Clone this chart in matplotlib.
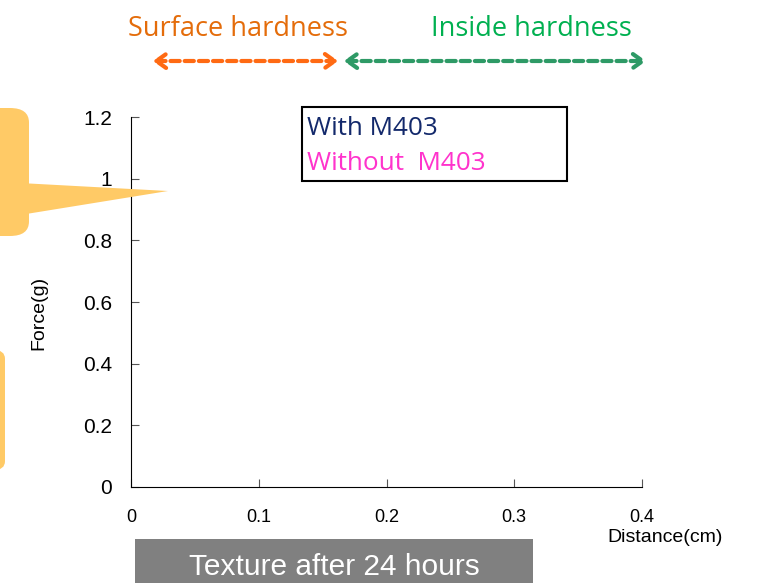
import matplotlib
matplotlib.use("Agg")
import matplotlib.pyplot as plt
from matplotlib.patches import FancyBboxPatch, Polygon, Rectangle, FancyArrowPatch

W, H = 763, 583

# axis setup
x_ticks = [0, 0.1, 0.2, 0.3, 0.4]
x_labels = ["0", "0.1", "0.2", "0.3", "0.4"]
y_ticks = [0, 0.2, 0.4, 0.6, 0.8, 1.0, 1.2]
y_labels = ["0", "0.2", "0.4", "0.6", "0.8", "1", "1.2"]

series_names = ["With M403", "Without  M403"]
series_colors = ["#13296B", "#FF33CC"]

zones = ["Surface hardness", "Inside hardness"]
zone_text_colors = ["#E46C0A", "#00B050"]
zone_arrow_colors = ["#FF6A13", "#2E9A66"]

plt.rcParams['font.family'] = ['Liberation Sans', 'DejaVu Sans']


def px(x, y):
    # pixel coords (from top-left) -> figure fraction
    return x / W, 1 - y / H


fig = plt.figure(figsize=(W / 100, H / 100), dpi=100)
ax = fig.add_axes([131 / W, 96 / H, 511 / W, 370 / H])
ax.set_xlim(0, 0.4)
ax.set_ylim(0, 1.2)
ax.set_xticks(x_ticks)
ax.set_xticklabels(x_labels)
ax.set_yticks(y_ticks)
ax.set_yticklabels(y_labels)
ax.spines['top'].set_visible(False)
ax.spines['right'].set_visible(False)
ax.tick_params(direction='in', length=6, width=0.8, color='#555555')
ax.tick_params(axis='x', pad=15.5, labelsize=13)
ax.tick_params(axis='y', pad=13.5, labelsize=15)

fig.text(*px(39, 313), "Force(g)", rotation=90, fontsize=14, ha='center', va='center')
fig.text(*px(665, 537), "Distance(cm)", fontsize=14, ha='center', va='center')

# zone labels and arrows
fig.text(*px(238, 29), zones[0], color=zone_text_colors[0], fontsize=19.5,
         ha='center', va='center', family=['Open Sans', 'DejaVu Sans'])
fig.text(*px(531, 29), zones[1], color=zone_text_colors[1], fontsize=19.5,
         ha='center', va='center', family=['Open Sans', 'DejaVu Sans'])
arrow_spans = [(150, 341), (341, 649)]
for (x0, x1), c in zip(arrow_spans, zone_arrow_colors):
    a = FancyArrowPatch(px(x0, 61), px(x1, 61), transform=fig.transFigure,
                        arrowstyle='<->,head_length=7,head_width=5', color=c,
                        lw=3, linestyle=(0, (2.2, 1.2)), mutation_scale=1)
    fig.patches.append(a)

# legend-like box
box = Rectangle(px(302, 181), 265 / W, 74 / H, transform=fig.transFigure,
                fill=False, edgecolor='black', lw=1.5)
fig.patches.append(box)
fig.text(*px(307, 128), series_names[0], color=series_colors[0], fontsize=18.8,
         ha='left', va='center', family=['Open Sans', 'DejaVu Sans'])
fig.text(*px(307, 163), series_names[1], color=series_colors[1], fontsize=18.8,
         ha='left', va='center', family=['Open Sans', 'DejaVu Sans'])

# yellow callouts cut off at the left edge
yellow = "#FFCA66"
c1 = FancyBboxPatch(px(-40, 236), 69 / W, 128 / H, transform=fig.transFigure,
                    boxstyle="round,pad=0,rounding_size=0.025", fc=yellow, ec='none')
fig.patches.append(c1)
tri = Polygon([px(20, 183), px(20, 215), px(168, 191)], closed=True,
              transform=fig.transFigure, fc=yellow, ec='none')
fig.patches.append(tri)
c2 = FancyBboxPatch(px(-60, 470), 65 / W, 120 / H, transform=fig.transFigure,
                    boxstyle="round,pad=0,rounding_size=0.015", fc=yellow, ec='none')
fig.patches.append(c2)

# gray caption box
gray = Rectangle(px(135, 583), 398 / W, 44 / H, transform=fig.transFigure,
                 fc='#808080', ec='none')
fig.patches.append(gray)
fig.text(*px(334, 567), "Texture after 24 hours", color='white', fontsize=21.5,
         ha='center', va='center')

fig.savefig("out.png", dpi=100)
